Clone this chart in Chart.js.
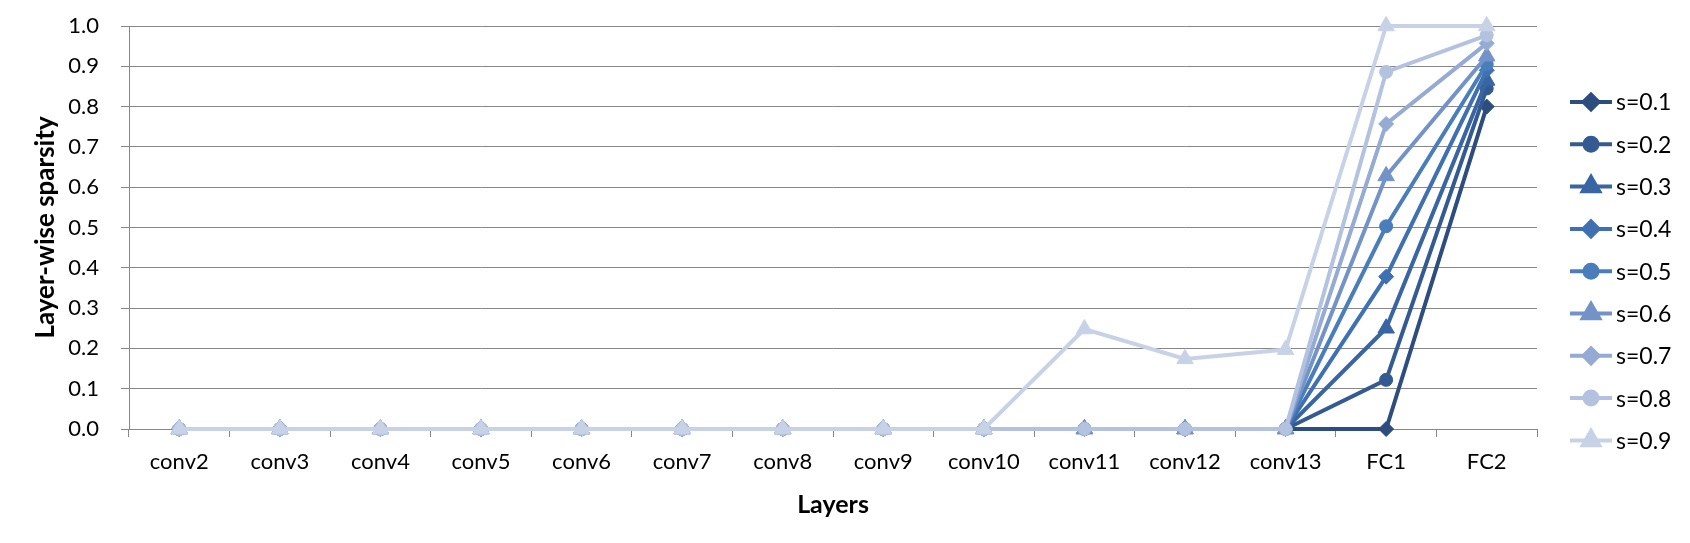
<!DOCTYPE html>
<html>
<head>
<meta charset="utf-8">
<script src="https://cdn.jsdelivr.net/npm/chart.js@4/dist/chart.umd.min.js"></script>
<style>
  html, body { margin: 0; padding: 0; background: #fff; }
  #wrap { width: 1690px; height: 543px; }
</style>
</head>
<body>
<div id="wrap"><canvas id="sparsityChart" width="1690" height="543"></canvas></div>
<script>
// layers on the x axis
const layers = ['conv2', 'conv3', 'conv4', 'conv5', 'conv6', 'conv7', 'conv8',
                'conv9', 'conv10', 'conv11', 'conv12', 'conv13', 'FC1', 'FC2'];

// layer-wise sparsity for each target sparsity s
const s01 = [0, 0, 0, 0, 0, 0, 0, 0, 0, 0, 0, 0, 0.0, 0.80];
const s02 = [0, 0, 0, 0, 0, 0, 0, 0, 0, 0, 0, 0, 0.122, 0.845];
const s03 = [0, 0, 0, 0, 0, 0, 0, 0, 0, 0, 0, 0, 0.25, 0.865];
const s04 = [0, 0, 0, 0, 0, 0, 0, 0, 0, 0, 0, 0, 0.378, 0.89];
const s05 = [0, 0, 0, 0, 0, 0, 0, 0, 0, 0, 0, 0, 0.503, 0.905];
const s06 = [0, 0, 0, 0, 0, 0, 0, 0, 0, 0, 0, 0, 0.628, 0.925];
const s07 = [0, 0, 0, 0, 0, 0, 0, 0, 0, 0, 0, 0, 0.757, 0.957];
const s08 = [0, 0, 0, 0, 0, 0, 0, 0, 0, 0, 0, 0, 0.886, 0.977];
const s09 = [0, 0, 0, 0, 0, 0, 0, 0, 0, 0.248, 0.174, 0.197, 1.0, 1.0];

const seriesNames = ['s=0.1', 's=0.2', 's=0.3', 's=0.4', 's=0.5', 's=0.6', 's=0.7', 's=0.8', 's=0.9'];
const seriesData = [s01, s02, s03, s04, s05, s06, s07, s08, s09];
const yTicks = [0, 0.1, 0.2, 0.3, 0.4, 0.5, 0.6, 0.7, 0.8, 0.9, 1.0];

const colors = ['#2c4d7e', '#335a91', '#3965a3', '#3f70b2', '#4a7ebb',
                '#7393c8', '#95abd3', '#b3c2df', '#c8d2e6'];
const markers = ['rectRot', 'circle', 'triangle'];
const markerSize = { rectRot: 7.5, circle: 6.5, triangle: 9.5 };

const FONT = 'Lato, "Open Sans", sans-serif';
const gridColor = '#878787';

const datasets = seriesData.map((d, i) => {
    const style = markers[i % 3];
    return {
        label: seriesNames[i],
        data: d,
        borderColor: colors[i],
        backgroundColor: colors[i],
        borderWidth: 4,
        pointStyle: style,
        pointRadius: markerSize[style],
        pointBorderWidth: 1,
        pointBackgroundColor: colors[i],
        pointBorderColor: colors[i],
        tension: 0,
        clip: false,
        order: 9 - i   // later series on top, like the original
    };
});

// legend drawn by hand: line + marker + label, one per row
const sideLegend = {
    id: 'sideLegend',
    afterDraw(chart) {
        const ctx = chart.ctx;
        const x0 = 1570, x1 = 1612, top = 102, step = 42.3;
        ctx.save();
        chart.data.datasets.forEach((ds, i) => {
            const y = top + i * step;
            ctx.strokeStyle = ds.borderColor;
            ctx.lineWidth = 4;
            ctx.beginPath();
            ctx.moveTo(x0, y);
            ctx.lineTo(x1, y);
            ctx.stroke();
            ctx.fillStyle = ds.borderColor;
            Chart.helpers.drawPoint(ctx, {
                pointStyle: ds.pointStyle,
                radius: ds.pointRadius,
                borderWidth: 1,
                rotation: 0
            }, (x0 + x1) / 2, y);
            ctx.fillStyle = '#000';
            ctx.font = '23px ' + FONT;
            ctx.textAlign = 'left';
            ctx.textBaseline = 'middle';
            ctx.fillText(ds.label, 1616, y + 1);
        });
        ctx.restore();
    }
};

const ctx = document.getElementById('sparsityChart').getContext('2d');
const sparsityChart = new Chart(ctx, {
    type: 'line',
    data: { labels: layers, datasets: datasets },
    options: {
        responsive: false,
        animation: false,
        layout: { padding: { left: 0, right: 153, top: 26, bottom: 0 } },
        plugins: {
            legend: { display: false },
            tooltip: { enabled: false }
        },
        scales: {
            x: {
                offset: true,
                grid: {
                    offset: true,
                    drawOnChartArea: false,
                    drawTicks: true,
                    tickLength: 8,
                    color: gridColor
                },
                border: { display: true, color: gridColor, width: 1 },
                ticks: {
                    color: '#000',
                    font: { family: FONT, size: 22 },
                    padding: 12,
                    maxRotation: 0,
                    autoSkip: false
                },
                title: {
                    display: true,
                    text: 'Layers',
                    color: '#000',
                    font: { family: FONT, size: 25, weight: 'bold' },
                    padding: { top: 0, bottom: 23 }
                },
                afterFit(scale) {
                    scale.height = 114;
                    scale.paddingLeft = 0;
                    scale.paddingRight = 0;
                }
            },
            y: {
                min: 0,
                max: 1,
                afterBuildTicks(scale) { scale.ticks = yTicks.map(v => ({ value: v })); },
                grid: {
                    color: gridColor,
                    tickLength: 8,
                    drawTicks: true
                },
                border: { display: true, color: gridColor, width: 1 },
                ticks: {
                    color: '#000',
                    font: { family: FONT, size: 22 },
                    padding: 22,
                    callback: v => Number(v).toFixed(1)
                },
                title: {
                    display: true,
                    text: 'Layer-wise sparsity',
                    color: '#000',
                    font: { family: FONT, size: 26, weight: 'bold' },
                    padding: { top: 30, bottom: 0 }
                },
                afterFit(scale) {
                    scale.width = 129;
                    scale.paddingTop = 0;
                    scale.paddingBottom = 0;
                }
            }
        }
    },
    plugins: [sideLegend]
});
</script>
</body>
</html>
